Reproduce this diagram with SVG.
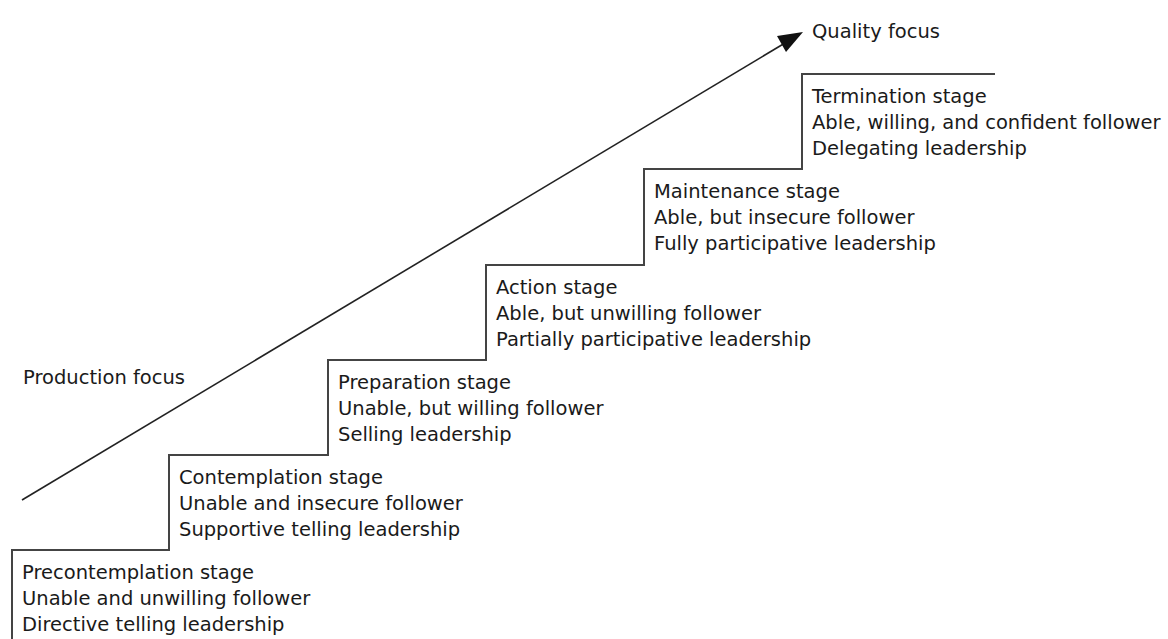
<svg xmlns="http://www.w3.org/2000/svg" width="1168" height="639" viewBox="0 0 1168 639">
  <style>
    .lbl { font-family: "DejaVu Sans", "Liberation Sans", sans-serif; font-size: 19.5px; fill: #1a1a1a; }
    .step { fill: none; stroke: #444; stroke-width: 2; }
    .trend { fill: none; stroke: #222; stroke-width: 1.6; }
    .head { fill: #111; }
  </style>
  <rect width="1168" height="639" fill="#fff"/>

  <g id="connectors">
    <!-- staircase outline -->
    <path class="step" d="M12,639 V550 H169 V455 H328 V360 H486 V265 H644 V169 H802 V74 H995"/>
    <!-- rising trend arrow -->
    <path class="trend" d="M22,500 L785,43"/>
    <path class="head" d="M803,32 L777,36 L786,52 z"/>
  </g>

  <g id="production-focus">
    <text class="lbl" x="23" y="384">Production focus</text>
  </g>
  <g id="quality-focus">
    <text class="lbl" x="812" y="38">Quality focus</text>
  </g>

  <g id="precontemplation">
    <text class="lbl" x="22" y="579">Precontemplation stage</text>
    <text class="lbl" x="22" y="605">Unable and unwilling follower</text>
    <text class="lbl" x="22" y="631">Directive telling leadership</text>
  </g>
  <g id="contemplation">
    <text class="lbl" x="179" y="484">Contemplation stage</text>
    <text class="lbl" x="179" y="510">Unable and insecure follower</text>
    <text class="lbl" x="179" y="536">Supportive telling leadership</text>
  </g>
  <g id="preparation">
    <text class="lbl" x="338" y="389">Preparation stage</text>
    <text class="lbl" x="338" y="415">Unable, but willing follower</text>
    <text class="lbl" x="338" y="441">Selling leadership</text>
  </g>
  <g id="action">
    <text class="lbl" x="496" y="294">Action stage</text>
    <text class="lbl" x="496" y="320">Able, but unwilling follower</text>
    <text class="lbl" x="496" y="346">Partially participative leadership</text>
  </g>
  <g id="maintenance">
    <text class="lbl" x="654" y="198">Maintenance stage</text>
    <text class="lbl" x="654" y="224">Able, but insecure follower</text>
    <text class="lbl" x="654" y="250">Fully participative leadership</text>
  </g>
  <g id="termination">
    <text class="lbl" x="812" y="103">Termination stage</text>
    <text class="lbl" x="812" y="129">Able, willing, and confident follower</text>
    <text class="lbl" x="812" y="155">Delegating leadership</text>
  </g>
</svg>
